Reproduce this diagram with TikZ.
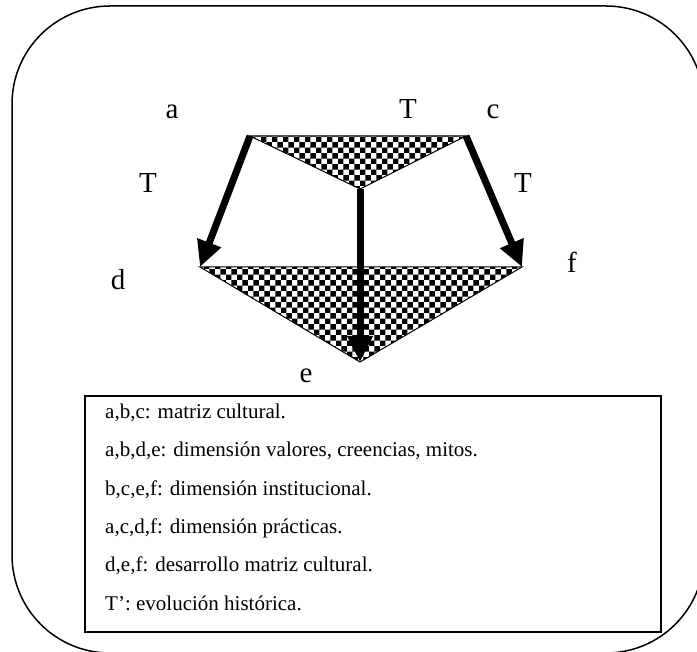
\documentclass[tikz,border=0pt]{standalone}
\usepackage{fontspec}
\setmainfont{Liberation Serif}
\usetikzlibrary{arrows.meta,patterns}

\begin{document}
\begin{tikzpicture}[x=1pt,y=-1pt,
  lbl/.style={font=\fontsize{29}{34}\selectfont, anchor=base, inner sep=0pt},
  leg/.style={font=\fontsize{21}{25}\selectfont, anchor=base west, inner sep=0pt},
  tri/.style={draw=black, line width=1pt, pattern=checkerboard},
  bigarrow/.style={line width=7pt, -{Triangle[length=26pt,width=24pt]}},
]
\useasboundingbox (0,0) rectangle (697,652);
\clip (0,0) rectangle (697,652);
\draw[line width=1.5pt, rounded corners=98pt] (12,6) rectangle (704,653);

\coordinate (A) at (250,136);
\coordinate (C) at (466,136);
\coordinate (B) at (360,189);
\coordinate (D) at (200,267);
\coordinate (F) at (522,267);
\coordinate (E) at (360,362);

\draw[tri] (A) -- (C) -- (B) -- cycle;
\draw[tri] (D) -- (F) -- (E) -- cycle;

\draw[bigarrow] (A) -- (D);
\draw[bigarrow] (C) -- (F);
\draw[bigarrow] (B) -- (E);

\node[lbl] (la) at (172,119) {a};
\node[lbl] (lT) at (408,119) {T};
\node[lbl] (lc) at (493,119) {c};
\node[lbl] (lTl) at (148,193) {T};
\node[lbl] (lTr) at (523,193) {T};
\node[lbl] (ld) at (118,290) {d};
\node[lbl] (lf) at (572,273) {f};
\node[lbl] (le) at (306,383) {e};

\node[draw, line width=2pt, minimum width=576pt, minimum height=236pt,
      anchor=north west, inner sep=0pt] (legend) at (84,395) {};
\node[leg] (l1) at (105,419) {a,b,c: matriz cultural.};
\node[leg] (l2) at (105,457) {a,b,d,e: dimensión valores, creencias, mitos.};
\node[leg] (l3) at (105,495.5) {b,c,e,f: dimensión institucional.};
\node[leg] (l4) at (105,533.5) {a,c,d,f: dimensión prácticas.};
\node[leg] (l5) at (105,572) {d,e,f: desarrollo matriz cultural.};
\node[leg] (l6) at (105,610) {T’: evolución histórica.};
\end{tikzpicture}
\end{document}
